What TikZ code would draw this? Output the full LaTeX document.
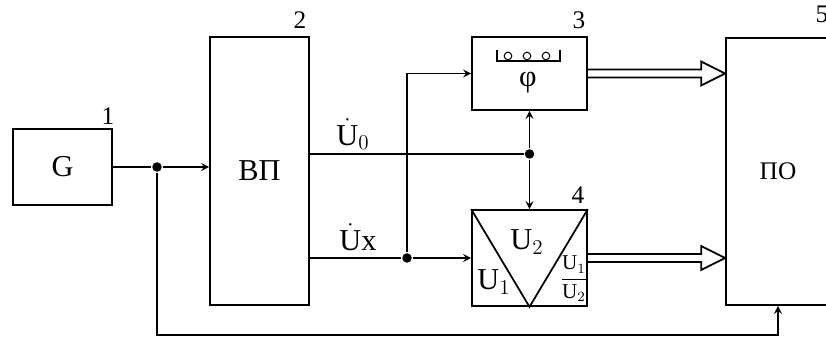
\documentclass[tikz,border=0pt]{standalone}
\usepackage{fontspec}
\setmainfont{Liberation Serif}
\usetikzlibrary{calc}

\tikzset{
  blk/.style={draw, line width=1pt, inner sep=0pt},
  dot/.style={circle, fill, inner sep=0pt, minimum size=0.19cm},
  num/.style={font=\Large},
}
% hollow double (bus) arrow
\newcommand{\busarrow}[2]{%
  \draw[line width=1pt] ($(#1)+(0,-4)$) -- ($(#2)+(-24,-4)$) -- ($(#2)+(-24,-12)$) -- (#2)
    -- ($(#2)+(-24,12)$) -- ($(#2)+(-24,4)$) -- ($(#1)+(0,4)$);}

\begin{document}
\begin{tikzpicture}[x=0.02cm,y=-0.02cm,>=stealth,line width=1pt]
	  \clip (0,0) rectangle (826,340);
	  % blocks
	  \node[blk,minimum width=1.98cm,minimum height=1.52cm,font=\LARGE] (G) at (62.5,167) {G};
	  \node[blk,minimum width=1.98cm,minimum height=5.36cm,font=\LARGE] (VP) at (259.5,171) {ВП};
	  \node[blk,minimum width=2.3cm,minimum height=1.46cm] (phase) at (529.5,73.5) {};
	  \node[blk,minimum width=2.3cm,minimum height=1.92cm] (ratio) at (529.5,258) {};
	  \node[blk,minimum width=2.08cm,minimum height=5.34cm,font=\Large] (PO) at (778,171.5) {ПО};
	  % phase meter face
	  \draw (497,50) -- (497,61) -- (560,61) -- (560,50);
	  \foreach \cx in {508,527,546}
	    \draw[line width=0.6pt] (\cx,56) circle (3.8);
	  \node[font=\LARGE] (phi) at (528,83) {φ};
	  % ratio meter
	  \draw (ratio.north west) -- (ratio.south) -- (ratio.north east);
	  \node[font=\LARGE] (u2) at (527,242) {$\mathrm{U}_2$};
	  \node[font=\LARGE] (u1) at (494,282) {$\mathrm{U}_1$};
	  \node[font=\large] (q) at (574,279) {$\displaystyle\frac{\mathrm{U}_1}{\mathrm{U}_2}$};
	  % junctions
	  \node[dot] (j1) at (157,167) {};
	  \node[dot] (j2) at (529.5,154) {};
	  \node[dot] (j3) at (407,258) {};
	  \coordinate (fb) at (157,335);
	  \coordinate (in3) at (PO.west |- phase.east);
	  \coordinate (in4) at (PO.west |- ratio.east);
	  % connections
	  \draw (G.east |- j1) -- (j1);
	  \draw[->] (j1) -- (VP.west |- j1);
	  \draw[->] (j1) -- (fb) -| (PO.south);
	  \draw (VP.east |- j2) -- (j2);
	  \draw[->] (j2) -- (phase.south);
	  \draw[->] (j2) -- (ratio.north);
	  \draw (VP.east |- j3) -- (j3);
	  \draw[->] (j3) -- (ratio.west |- j3);
	  \draw[->] (j3) |- (phase.west);
	  \busarrow{phase.east}{in3}
	  \busarrow{ratio.east}{in4}
	  % signal labels
	  \node[font=\LARGE] (u0) at (353,134) {$\dot{\mathrm{U}}_0$};
	  \node[font=\LARGE] (ux) at (358,237) {$\dot{\mathrm{U}}$x};
	  % block numbers
	  \node[num] (n1) at (108,116) {1};
	  \node[num] (n2) at (300,20) {2};
	  \node[num] (n3) at (579,20) {3};
	  \node[num] (n4) at (578,195) {4};
	  \node[num] (n5) at (822,14) {5};
\end{tikzpicture}
\end{document}
